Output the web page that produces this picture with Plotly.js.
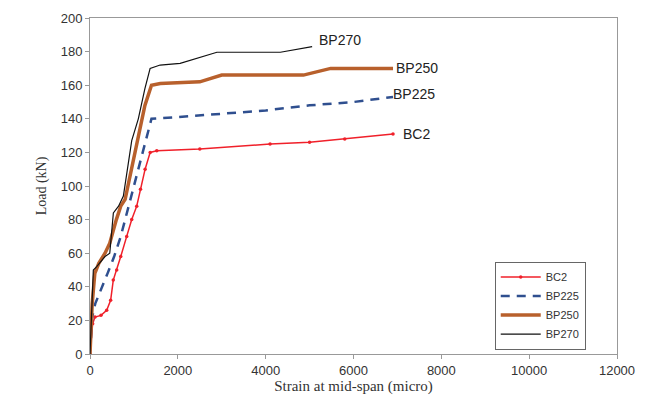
<!DOCTYPE html>
<html>
<head>
<meta charset="utf-8">
<script src="https://cdn.plot.ly/plotly-3.0.1.min.js"></script>
<style>body{margin:0;background:#fff}#chart{width:648px;height:405px}</style>
</head>
<body>
<div id="chart"></div>
<script>
// Data
const bc2X   = [0, 60, 114, 250, 380, 470, 530, 608, 700, 836, 950, 1064, 1150, 1255, 1370, 1520, 2500, 4100, 5000, 5800, 6900];
const bc2Y   = [0, 18, 22, 23, 26, 32, 44, 50, 58, 70, 80, 88, 98, 110, 120, 121, 122, 125, 126, 128, 131];

const bp225X = [0, 50, 120, 250, 400, 550, 700, 850, 1000, 1150, 1300, 1400, 2000, 3000, 4000, 5000, 6000, 6900];
const bp225Y = [0, 22, 30, 38, 48, 58, 70, 85, 100, 115, 130, 140, 141, 143, 145, 148, 150, 153];

const bp250X = [0, 50, 110, 200, 342, 450, 600, 700, 800, 950, 1100, 1250, 1400, 1600, 2500, 3000, 4860, 5480, 6900];
const bp250Y = [0, 30, 48, 54, 60, 66, 80, 88, 92, 110, 128, 148, 160, 161, 162, 166, 166, 170, 170];

const bp270X = [0, 40, 76, 152, 342, 450, 532, 650, 760, 950, 1100, 1250, 1369, 1597, 2053, 2890, 4335, 5058];
const bp270Y = [0, 30, 50, 52, 58, 60, 84, 88, 94, 127, 140, 158, 170, 172, 173, 179.6, 179.6, 183];

const seriesNames = ['BC2', 'BP225', 'BP250', 'BP270'];
const labelX = [7080, 6850, 6930, 5180];
const labelY = [131, 155, 170, 187];

const xTicks = [0, 2000, 4000, 6000, 8000, 10000, 12000];
const yTicks = [0, 20, 40, 60, 80, 100, 120, 140, 160, 180, 200];

const traces = [
  {x: bc2X, y: bc2Y, name: seriesNames[0], mode: 'lines+markers',
   line: {color: '#f0202a', width: 1.5}, marker: {color: '#f0202a', size: 3.5}},
  {x: bp225X, y: bp225Y, name: seriesNames[1], mode: 'lines',
   line: {color: '#2f4f8f', width: 2.5, dash: '9px,7px'}},
  {x: bp250X, y: bp250Y, name: seriesNames[2], mode: 'lines',
   line: {color: '#b8602c', width: 3.5}},
  {x: bp270X, y: bp270Y, name: seriesNames[3], mode: 'lines',
   line: {color: '#111111', width: 1.2}}
];

const annFont = {family: 'Liberation Sans, Arial, sans-serif', size: 14, color: '#222'};
const annotations = seriesNames.map((n, i) => ({
  x: labelX[i], y: labelY[i], xref: 'x', yref: 'y', text: n, showarrow: false,
  xanchor: 'left', yanchor: 'middle', font: annFont
}));

const layout = {
  width: 648, height: 405,
  margin: {l: 90, r: 31, t: 18, b: 51},
  paper_bgcolor: '#fff', plot_bgcolor: '#fff',
  showlegend: true,
  legend: {x: 0.768, y: 0.275, xanchor: 'left', yanchor: 'top',
    bordercolor: '#666', borderwidth: 1, bgcolor: '#fff',
    font: {family: 'Liberation Sans, Arial, sans-serif', size: 11, color: '#333'},
    tracegroupgap: 0, itemwidth: 40, entrywidth: 98, entrywidthmode: 'pixels'},
  xaxis: {range: [0, 12000], tickvals: xTicks, ticktext: xTicks.map(String),
    showgrid: false, zeroline: false, showline: true, linecolor: '#999', linewidth: 1,
    mirror: true, ticks: 'outside', ticklen: 4, tickcolor: '#999',
    tickfont: {family: 'Liberation Sans, Arial, sans-serif', size: 13, color: '#333'},
    title: {text: 'Strain at mid-span (micro)', standoff: 2,
      font: {family: 'Liberation Serif, Times New Roman, serif', size: 15, color: '#333'}}},
  yaxis: {range: [0, 200], tickvals: yTicks, ticktext: yTicks.map(String),
    showgrid: false, zeroline: false, showline: true, linecolor: '#999', linewidth: 1,
    mirror: true, ticks: 'outside', ticklen: 4, tickcolor: '#999',
    tickfont: {family: 'Liberation Sans, Arial, sans-serif', size: 13, color: '#333'},
    title: {text: 'Load (kN)', standoff: 10,
      font: {family: 'Liberation Serif, Times New Roman, serif', size: 14, color: '#333'}}},
  annotations: annotations
};

Plotly.newPlot('chart', traces, layout, {displayModeBar: false, staticPlot: true});
</script>
</body>
</html>
